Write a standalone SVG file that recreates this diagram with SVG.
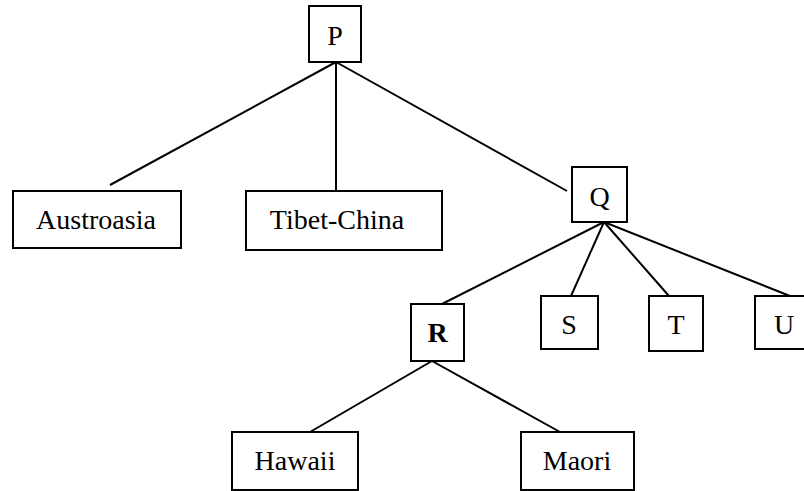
<svg xmlns="http://www.w3.org/2000/svg" width="804" height="491" viewBox="0 0 804 491">
<style>
.box{fill:#fff;stroke:#000;stroke-width:2}
.lbl{font-family:"Liberation Serif","Times New Roman",serif;font-size:28px;fill:#000;text-anchor:middle}
.edge{stroke:#000;stroke-width:2;fill:none}
</style>
<rect width="804" height="491" fill="#fff"/>
<g id="connectors">
<line class="edge" x1="336" y1="62" x2="110" y2="185"/>
<line class="edge" x1="336" y1="62" x2="336" y2="191"/>
<line class="edge" x1="336" y1="62" x2="567" y2="191"/>
<line class="edge" x1="604" y1="222" x2="442" y2="304"/>
<line class="edge" x1="604" y1="222" x2="571" y2="296"/>
<line class="edge" x1="604" y1="222" x2="669" y2="296"/>
<line class="edge" x1="604" y1="222" x2="790" y2="296"/>
<line class="edge" x1="432" y1="361" x2="310" y2="432"/>
<line class="edge" x1="432" y1="361" x2="560" y2="432"/>
</g>
<g id="P"><rect class="box" x="309" y="6" width="52" height="56"/><text class="lbl" x="335" y="45">P</text></g>
<g id="Austroasia"><rect class="box" x="13" y="191" width="168" height="57"/><text class="lbl" x="96" y="229">Austroasia</text></g>
<g id="TibetChina"><rect class="box" x="246" y="191" width="196" height="59"/><text class="lbl" x="337" y="229">Tibet-China</text></g>
<g id="Q"><rect class="box" x="572" y="167" width="55" height="55"/><text class="lbl" x="599.5" y="206">Q</text></g>
<g id="R"><rect class="box" x="411" y="304" width="53" height="57"/><text class="lbl" x="437.5" y="342" font-weight="bold">R</text></g>
<g id="S"><rect class="box" x="541" y="296" width="57" height="53"/><text class="lbl" x="569" y="334">S</text></g>
<g id="T"><rect class="box" x="649" y="296" width="54" height="55"/><text class="lbl" x="676" y="334">T</text></g>
<g id="U"><rect class="box" x="755" y="296" width="60" height="53"/><text class="lbl" x="784" y="334">U</text></g>
<g id="Hawaii"><rect class="box" x="232" y="432" width="126" height="58"/><text class="lbl" x="295" y="470">Hawaii</text></g>
<g id="Maori"><rect class="box" x="521" y="432" width="113" height="58"/><text class="lbl" x="577" y="470">Maori</text></g>
</svg>
